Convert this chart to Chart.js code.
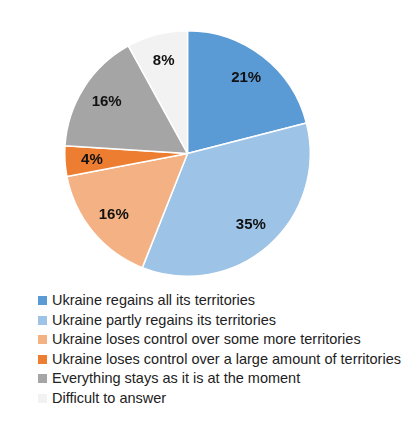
<!DOCTYPE html>
<html>
<head>
<meta charset="utf-8">
<script src="https://cdn.jsdelivr.net/npm/chart.js@4"></script>
<style>
  body { margin:0; background:#fff; font-family:"Liberation Sans", Arial, sans-serif; }
  #wrap { position:relative; width:415px; height:285px; }
  #legend { position:absolute; left:38px; top:291px; font-size:14.5px; color:#222; }
  .row { height:19.5px; line-height:19.5px; white-space:nowrap; }
  .box { display:inline-block; width:9px; height:9px; margin-right:5px; vertical-align:0px; }
</style>
</head>
<body>
<div id="wrap"><canvas id="myChart"></canvas></div>
<div id="legend"></div>
<script>
const categories = [
  "Ukraine regains all its territories",
  "Ukraine partly regains its territories",
  "Ukraine loses control over some more territories",
  "Ukraine loses control over a large amount of territories",
  "Everything stays as it is at the moment",
  "Difficult to answer"
];
const values = [21, 35, 16, 4, 16, 8];
const colors = ["#5B9BD5", "#9DC3E6", "#F4B183", "#ED7D31", "#A5A5A5", "#F2F2F2"];

const pieLabels = {
  id: "pieLabels",
  afterDatasetsDraw(chart) {
    const ctx = chart.ctx;
    const meta = chart.getDatasetMeta(0);
    ctx.save();
    ctx.font = "bold 15px 'Liberation Sans', Arial, sans-serif";
    ctx.fillStyle = "#111";
    ctx.textAlign = "center";
    ctx.textBaseline = "middle";
    meta.data.forEach((arc, i) => {
      const mid = (arc.startAngle + arc.endAngle) / 2;
      const r = arc.outerRadius * 0.78;
      ctx.fillText(values[i] + "%", arc.x + Math.cos(mid) * r, arc.y + Math.sin(mid) * r);
    });
    ctx.restore();
  }
};

new Chart(document.getElementById("myChart"), {
  type: "pie",
  data: {
    labels: categories,
    datasets: [{ data: values, backgroundColor: colors, borderColor: "#fff", borderWidth: 1.5 }]
  },
  options: {
    responsive: true,
    maintainAspectRatio: false,
    animation: false,
    layout: { padding: { top: 30, bottom: 8, left: 64, right: 104 } },
    plugins: { legend: { display: false }, tooltip: { enabled: false } }
  },
  plugins: [pieLabels]
});

const legend = document.getElementById("legend");
categories.forEach((c, i) => {
  const row = document.createElement("div");
  row.className = "row";
  row.innerHTML = '<span class="box" style="background:' + colors[i] + '"></span>' + c;
  legend.appendChild(row);
});
</script>
</body>
</html>
